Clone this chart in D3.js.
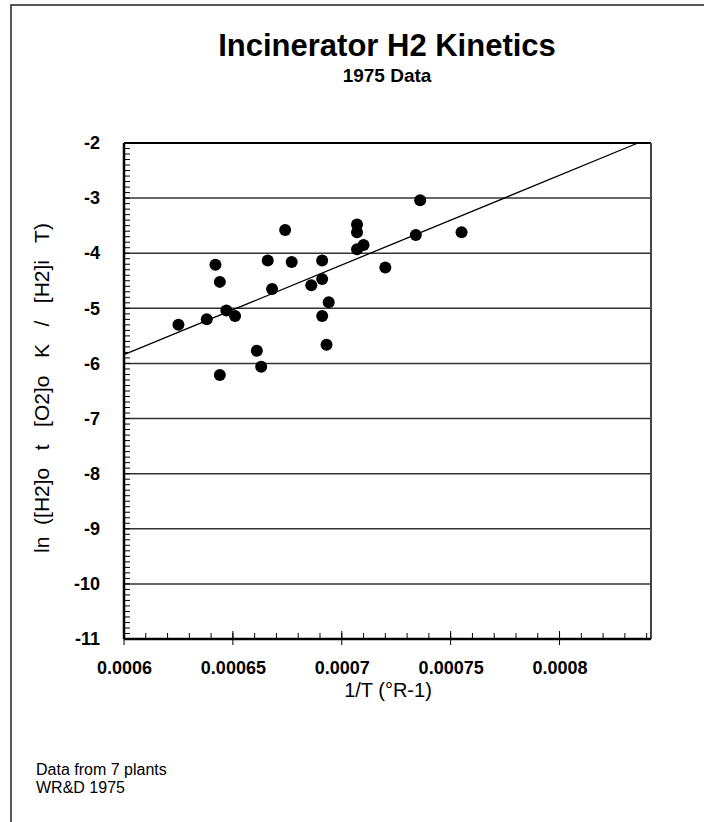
<!DOCTYPE html>
<html>
<head>
<meta charset="utf-8">
<script src="https://cdn.jsdelivr.net/npm/d3@7"></script>
<style>
body { margin: 0; background: #fff; }
text { font-family: "Liberation Sans", Arial, sans-serif; }
</style>
</head>
<body>
<svg id="chart"></svg>
<script>
const width = 704;
const height = 822;
const svg = d3.select('#chart').attr('width', width).attr('height', height);

// 1/T values
const invT = [0.000625, 0.000638, 0.000642, 0.000644, 0.000644, 0.000647, 0.000651,
  0.000661, 0.000663, 0.000666, 0.000668, 0.000674, 0.000677, 0.000686,
  0.000691, 0.000691, 0.000694, 0.000691, 0.000693,
  0.000707, 0.000707, 0.000707, 0.000710, 0.000720,
  0.000736, 0.000734, 0.000755];
const lnK = [-5.30, -5.20, -4.21, -4.52, -6.21, -5.04, -5.14,
  -5.77, -6.06, -4.13, -4.65, -3.58, -4.16, -4.58,
  -4.13, -4.47, -4.89, -5.14, -5.66,
  -3.48, -3.62, -3.93, -3.85, -4.26,
  -3.04, -3.67, -3.62];
// fitted line end points
const fitX = [0.0006, 0.000836];
const fitY = [-5.84, -2.0];

const xTicks = [0.0006, 0.00065, 0.0007, 0.00075, 0.0008];
const xTickLabels = ['0.0006', '0.00065', '0.0007', '0.00075', '0.0008'];
const yTicks = [-2, -3, -4, -5, -6, -7, -8, -9, -10, -11];

const margin = {left: 124, top: 143, right: 53, bottom: 183};
const innerW = width - margin.left - margin.right;
const innerH = height - margin.top - margin.bottom;

// outer frame (right/bottom edges run off the page)
svg.append('rect')
  .attr('x', 11).attr('y', 5)
  .attr('width', 720).attr('height', 840)
  .attr('fill', 'none')
  .attr('stroke', '#222')
  .attr('stroke-width', 1.5);

svg.append('text')
  .attr('x', 387).attr('y', 56)
  .attr('text-anchor', 'middle')
  .style('font-size', '31px')
  .style('font-weight', 'bold')
  .text('Incinerator H2 Kinetics');

svg.append('text')
  .attr('x', 387).attr('y', 82)
  .attr('text-anchor', 'middle')
  .style('font-size', '19px')
  .style('font-weight', 'bold')
  .text('1975 Data');

const x = d3.scaleLinear().domain([0.0006, 0.000842]).range([0, innerW]);
const y = d3.scaleLinear().domain([-11, -2]).range([innerH, 0]);

const g = svg.append('g').attr('transform', `translate(${margin.left},${margin.top})`);

// grid lines
g.selectAll('.grid')
  .data(yTicks.filter(d => d > -11 && d < -2))
  .enter().append('line')
  .attr('class', 'grid')
  .attr('x1', 0).attr('x2', innerW)
  .attr('y1', d => y(d)).attr('y2', d => y(d))
  .attr('stroke', '#333')
  .attr('stroke-width', 1.5);

// frame top/right
g.append('line').attr('x1', 0).attr('x2', innerW).attr('y1', 0).attr('y2', 0)
  .attr('stroke', '#000').attr('stroke-width', 2);
g.append('line').attr('x1', innerW).attr('x2', innerW).attr('y1', 0).attr('y2', innerH)
  .attr('stroke', '#444').attr('stroke-width', 2);

// y axis: minor ticks inside
const yMinor = d3.range(-110, -19, 1).map(d => d / 10);
g.selectAll('.yminor')
  .data(yMinor)
  .enter().append('line')
  .attr('x1', 0).attr('x2', 6)
  .attr('y1', d => y(d)).attr('y2', d => y(d))
  .attr('stroke', '#000').attr('stroke-width', 1);

const yAxis = d3.axisLeft(y).tickValues(yTicks).tickSize(0).tickPadding(24).tickFormat(d => String(d));
const yg = g.append('g').call(yAxis);
yg.select('.domain').remove();
yg.selectAll('text')
  .style('font-size', '18px')
  .style('font-weight', 'bold')
  .style('font-family', '"Liberation Sans", Arial, sans-serif')
  .attr('fill', '#000');

// x axis ticks
const xMinor = d3.range(60, 85, 1).map(d => d / 100000);
g.selectAll('.xminor')
  .data(xMinor)
  .enter().append('line')
  .attr('x1', d => x(d)).attr('x2', d => x(d))
  .attr('y1', innerH).attr('y2', innerH - 6)
  .attr('stroke', '#000').attr('stroke-width', 1);
g.selectAll('.xmajor')
  .data(xTicks)
  .enter().append('line')
  .attr('x1', d => x(d)).attr('x2', d => x(d))
  .attr('y1', innerH - 8).attr('y2', innerH + 6)
  .attr('stroke', '#000').attr('stroke-width', 1);

const xAxis = d3.axisBottom(x).tickValues(xTicks).tickSize(0).tickPadding(22)
  .tickFormat((d, i) => xTickLabels[i]);
const xg = g.append('g').attr('transform', `translate(0,${innerH})`).call(xAxis);
xg.select('.domain').remove();
xg.selectAll('text')
  .style('font-size', '18px')
  .style('font-weight', 'bold')
  .style('font-family', '"Liberation Sans", Arial, sans-serif')
  .attr('fill', '#000');

// axis lines
g.append('line').attr('x1', 0).attr('x2', 0).attr('y1', 0).attr('y2', innerH)
  .attr('stroke', '#000').attr('stroke-width', 2.5);
g.append('line').attr('x1', 0).attr('x2', innerW).attr('y1', innerH).attr('y2', innerH)
  .attr('stroke', '#000').attr('stroke-width', 2.5);

// fit line
g.append('path')
  .datum(fitX.map((d, i) => [d, fitY[i]]))
  .attr('d', d3.line().x(d => x(d[0])).y(d => y(d[1])))
  .attr('fill', 'none')
  .attr('stroke', '#000')
  .attr('stroke-width', 1.3);

// points
g.selectAll('.pt')
  .data(invT.map((d, i) => [d, lnK[i]]))
  .enter().append('circle')
  .attr('class', 'pt')
  .attr('cx', d => x(d[0]))
  .attr('cy', d => y(d[1]))
  .attr('r', 6)
  .attr('fill', '#000');

// axis titles
svg.append('text')
  .attr('x', 388).attr('y', 697)
  .attr('text-anchor', 'middle')
  .style('font-size', '20px')
  .text('1/T (°R-1)');

svg.append('text')
  .attr('transform', `translate(49,388) rotate(-90)`)
  .attr('text-anchor', 'middle')
  .style('font-size', '21px')
  .style('white-space', 'pre')
  .text('ln  ([H2]o   t   [O2]o   K   /   [H2]i   T)');

svg.append('text').attr('x', 36).attr('y', 775)
  .style('font-size', '16px').text('Data from 7 plants');
svg.append('text').attr('x', 36).attr('y', 793)
  .style('font-size', '16px').text('WR&D 1975');
</script>
</body>
</html>
